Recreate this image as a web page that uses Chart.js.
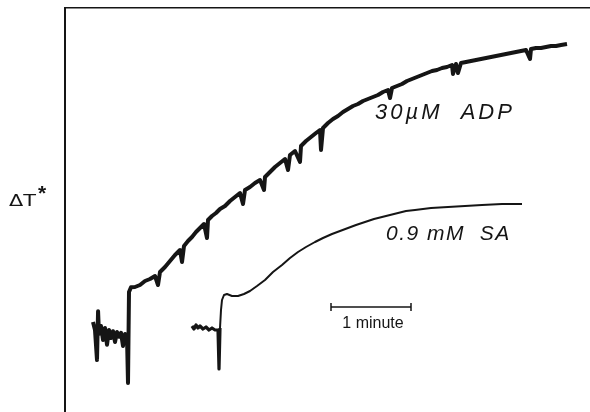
<!DOCTYPE html>
<html>
<head>
<meta charset="utf-8">
<script src="https://cdn.jsdelivr.net/npm/chart.js@4.4.1/dist/chart.umd.min.js"></script>
<style>
  html, body { margin: 0; padding: 0; background: #fff; }
  #wrap { width: 590px; height: 412px; }
</style>
</head>
<body>
<div id="wrap"><canvas id="chart"></canvas></div>
<script>
// time in seconds, temperature change in arbitrary recorder units
const adpTime = [
    21, 22.5, 24, 24.8, 25.5, 27, 28.5, 30, 31.5, 33, 34.5, 36, 37.5, 39, 40.5, 42, 43.5, 45, 46.5,
    47.25, 48, 49.5,
    52.5, 56.25, 60, 63.75, 67.5, 69.75, 71.25, 75, 78.75, 82.5, 86.25, 87.75, 89.25, 92.25, 95.25,
    98.25, 101.25, 104.25, 106.5, 107.25, 110.25, 113.25, 116.25, 120, 123.75, 127.5, 131.25, 133.5,
    135, 138.75, 142.5, 146.25, 149.25, 150, 153.75, 157.5, 161.25, 165, 167.25, 168.75, 172.5,
    176.25, 177, 180.75, 184.5, 188.25, 191.25, 192, 193.5, 197.25, 201, 204.75, 208.5, 212.25, 216,
    219.75, 223.5, 227.25, 231, 234.75, 238.5, 242.25, 243.75, 245.25, 249, 252.75, 256.5, 260.25,
    264, 267.75, 271.5, 275.25, 279, 282.75, 286.5, 290.25, 291, 293.25, 294.75, 297, 300.75, 304.5,
    308.25, 312, 315.75, 319.5, 323.25, 327, 330.75, 334.5, 338.25, 342, 345.75, 348.75, 349.5,
    353.25, 357, 360.75, 364.5, 368.25, 372, 376.5
];
const adpDt = [
    22.5, 20.5, 13, 25.2, 19.5, 21.5, 18, 21, 16.8, 20.5, 18.5, 20.2, 17.5, 20, 18.8, 19.8, 16.5, 19.5, 18.8,
    7.25, 30, 31.2,
    31.25, 31.75, 32.75, 33.25, 34, 31.75, 35, 36.25, 37.75, 39.25, 40.5, 37.5, 41.5, 42.75, 43.75,
    45, 46, 47, 43.5, 48, 49, 49.75, 50.75, 51.5, 52.75, 53.75, 54.75, 52,
    55.5, 56.25, 57.25, 58, 55.5, 58.75, 60, 61.25, 62.25, 63.25, 60.5, 64.25, 65.25,
    62.5, 66.5, 67.75, 68.75, 69.75, 70.5, 65.5, 71, 72.25, 73.25, 74, 75, 75.75, 76.5,
    77, 77.75, 78.25, 78.75, 79.25, 80, 80.5, 78.5, 81, 81.5, 82, 82.75, 83.25,
    83.75, 84.25, 84.75, 85.25, 85.5, 86, 86.25, 86.75, 84.5, 87, 84.75, 87.25, 87.5, 87.75,
    88, 88.25, 88.5, 88.75, 89, 89.25, 89.5, 89.75, 90, 90.25, 90.5, 88.25, 90.75,
    91, 91, 91.25, 91.5, 91.5, 91.75, 92
];

// baseline before salicylate addition (noisy)
const saPreTime = [95.25, 96.75, 98.25, 99.75, 101.25, 103.5, 105.75, 108, 110.25, 112.5, 114.75, 115.5, 116.25];
const saPreDt   = [21.5, 20.75, 21.75, 21, 21.5, 20.75, 21.25, 20.5, 21, 20.5, 20.5, 10.75, 21];

const saTime = [
    116.25, 117, 117.75, 119.25, 121.5, 125.25, 129.75, 134.25, 138.75, 144, 150, 156, 162.75,
    168.75, 174.75, 180.75, 187.5, 193.5, 200.25, 206.25, 212.25, 218.25, 225, 231.75, 237.75,
    243.75, 249.75, 255.75, 262.5, 274.5, 287.25, 300, 312.75, 327.75, 342.75
];
const saDt = [
    21, 25.5, 28, 29.25, 29.5, 29, 29, 29.5, 30.25, 31.5, 33, 35, 36.75,
    38.5, 40, 41.25, 42.5, 43.5, 44.5, 45.25, 46, 46.75, 47.5, 48.25, 48.75,
    49.25, 49.75, 50.25, 50.5, 51, 51.25, 51.5, 51.75, 52, 52
];

// 1 minute scale bar
const barTime = [199.5, 259.5];
const barDt = [26.25, 26.25];

const ink = '#151515';

function toPoints(xs, ys) {
    return xs.map((t, i) => ({ x: t, y: ys[i] }));
}

const traceLabels = {
    id: 'traceLabels',
    afterDatasetsDraw(chart, args, opts) {
        const { ctx, scales: { x, y }, chartArea } = chart;
        ctx.save();
        ctx.fillStyle = ink;
        ctx.textBaseline = 'alphabetic';
        opts.labels.forEach(l => {
            ctx.font = l.font;
            ctx.letterSpacing = l.spacing || '0px';
            ctx.textAlign = l.align || 'left';
            ctx.fillText(l.text, x.getPixelForValue(l.t), y.getPixelForValue(l.v));
        });

        // axis label on the left, outside the plot frame (lettering is wide)
        ctx.letterSpacing = '0px';
        ctx.textAlign = 'left';
        const base = y.getPixelForValue(51.5);
        const left = chartArea.left - 56;
        ctx.save();
        ctx.translate(left, base);
        ctx.scale(1.3, 1);
        ctx.font = '16px "DejaVu Sans", sans-serif';
        ctx.fillText('\u0394T', 0, 0);
        const w = ctx.measureText('\u0394T').width;
        ctx.restore();
        ctx.font = 'bold 21px "Liberation Sans", Arial, sans-serif';
        ctx.fillText('*', left + w * 1.3 + 2, base - 6);
        ctx.restore();
    }
};

new Chart(document.getElementById('chart'), {
    type: 'line',
    data: {
        datasets: [
            {
                label: '30 \u00b5M ADP',
                data: toPoints(adpTime, adpDt),
                borderColor: ink,
                borderWidth: 4,
                borderJoinStyle: 'round'
            },
            {
                label: 'baseline SA',
                data: toPoints(saPreTime, saPreDt),
                borderColor: ink,
                borderWidth: 3.2,
                borderJoinStyle: 'round'
            },
            {
                label: '0.9 mM SA',
                data: toPoints(saTime, saDt),
                borderColor: ink,
                borderWidth: 2,
                borderJoinStyle: 'round'
            },
            {
                label: '1 minute',
                data: toPoints(barTime, barDt),
                borderColor: ink,
                borderWidth: 1.5,
                pointStyle: 'line',
                pointRotation: 90,
                pointRadius: 4,
                pointBorderWidth: 1.5,
                pointBorderColor: ink
            }
        ]
    },
    options: {
        responsive: true,
        maintainAspectRatio: false,
        animation: false,
        events: [],
        layout: { autoPadding: false, padding: { left: 65, top: 8, right: 0, bottom: 0 } },
        elements: {
            point: { radius: 0 },
            line: { tension: 0 }
        },
        plugins: {
            legend: { display: false },
            tooltip: { enabled: false },
            traceLabels: {
                labels: [
                    { text: '30\u00b5M  ADP', t: 232.5, v: 73.25, spacing: '3px',
                      font: 'italic 22px "Liberation Sans", Arial, sans-serif' },
                    { text: '0.9 mM  SA', t: 240.75, v: 43, spacing: '1.5px',
                      font: 'italic 21px "Liberation Sans", Arial, sans-serif' },
                    { text: '1 minute', t: 231, v: 21, align: 'center',
                      font: '16px "Liberation Sans", Arial, sans-serif' }
                ]
            }
        },
        scales: {
            x: {
                type: 'linear',
                position: 'top',
                min: 0,
                max: 393.75,
                ticks: { display: false },
                grid: { display: false, drawTicks: false },
                border: { display: true, color: ink, width: 1.5 }
            },
            y: {
                min: 0,
                max: 101,
                ticks: { display: false },
                grid: { display: false, drawTicks: false },
                border: { display: true, color: ink, width: 2 }
            }
        }
    },
    plugins: [traceLabels]
});
</script>
</body>
</html>
